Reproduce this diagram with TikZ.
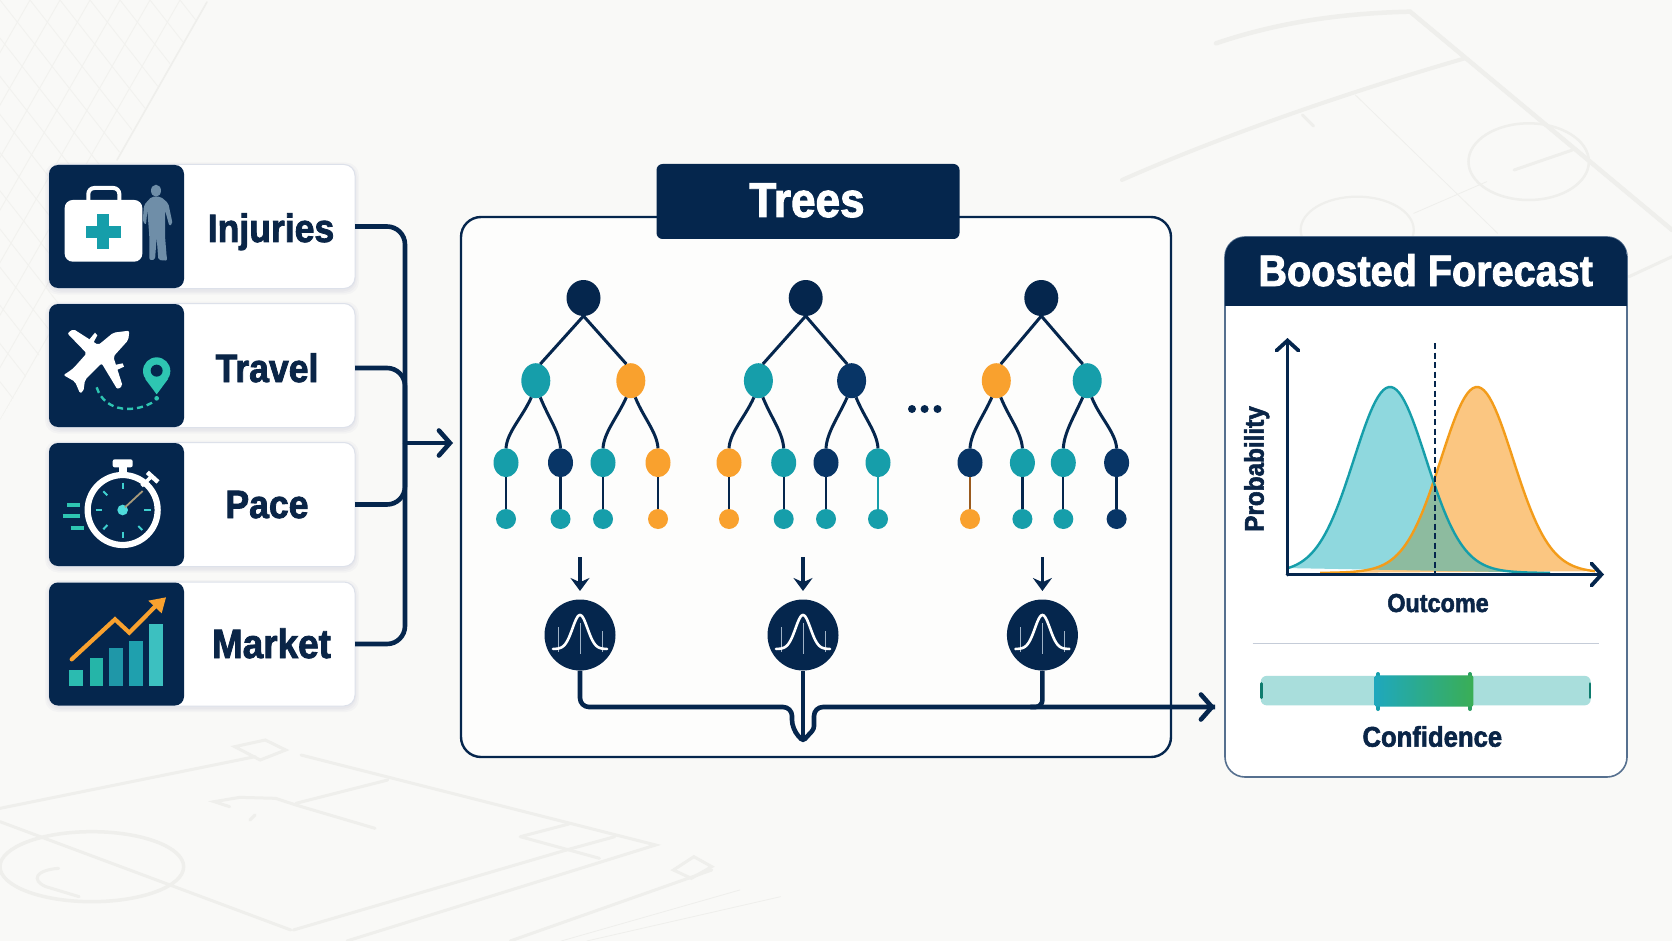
\documentclass[tikz,border=0pt]{standalone}
\usepackage{fontspec}
\setmainfont{Liberation Sans}[FakeStretch=0.9,BoldFeatures={FakeBold=2}]
\usetikzlibrary{arrows.meta,shapes.geometric,calc}
\definecolor{bgc}{HTML}{F9F9F7}
\definecolor{court}{HTML}{EFEFEC}
\definecolor{hatch}{HTML}{F2F2EF}
\definecolor{ink}{HTML}{0A2547}
\definecolor{nv}{HTML}{05264D}
\definecolor{nb}{HTML}{083566}
\definecolor{tl}{HTML}{169EAA}
\definecolor{tlfill}{HTML}{20B2BE}
\definecolor{og}{HTML}{F9A12E}
\definecolor{slate}{HTML}{56708F}
\definecolor{cyn}{HTML}{2EC5B2}
\definecolor{cardedge}{HTML}{DDE1EA}
\definecolor{person}{HTML}{6F8EA8}
\definecolor{cdot}{HTML}{4FDCDC}
\definecolor{handc}{HTML}{A89A7A}
\definecolor{tickc}{HTML}{3FD0D0}
\definecolor{barA}{HTML}{2BBBB0}
\definecolor{barB}{HTML}{25B5A8}
\definecolor{barC}{HTML}{1F97A8}
\definecolor{barD}{HTML}{1FA0AE}
\definecolor{barE}{HTML}{3CC0C0}
\definecolor{browne}{HTML}{9A5B1E}
\definecolor{belax}{HTML}{9FB2C6}
\definecolor{ogline}{HTML}{F39C1A}
\definecolor{divc}{HTML}{C5CCD8}
\definecolor{confb}{HTML}{A9DEDC}
\definecolor{confe}{HTML}{0E7C6E}
\definecolor{gradl}{HTML}{1FA8BD}
\definecolor{gradr}{HTML}{3AAE55}
\definecolor{flankr}{HTML}{2E9F62}
\newcommand{\fsz}[1]{\bfseries\fontsize{#1}{#1}\selectfont}
\tikzset{
 every node/.style={inner sep=0pt,outer sep=0pt},
 declare function={bump(\u,\m)=573-186*(0.92*exp(-0.5*((\u-\m)/35.5)^2)+0.08*exp(-0.5*((\u-\m)/52)^2));},
 cardbox/.style={rectangle,draw=cardedge,line width=1pt,fill=white,rounded corners=11pt,minimum width=306pt,minimum height=124pt},
 iconbox/.style={rectangle,fill=nv,rounded corners=9pt,minimum width=135pt,minimum height=123pt},
 cardtext/.style={anchor=base,text=ink,font=\fsz{39.5}},
 flow/.style={draw=nv,line width=4.6pt},
 barb/.style={-{Straight Barb[length=11pt,width=25pt,line cap=round,line width=4.6pt]}},
 leaf/.style={ellipse},
 lva/.style={leaf,minimum width=34pt,minimum height=36pt},
 lvb/.style={leaf,minimum width=29pt,minimum height=35pt},
 lvc/.style={leaf,minimum width=25pt,minimum height=29pt},
 lvd/.style={leaf,minimum width=20pt,minimum height=20pt},
 twig/.style={draw=nv,line width=3pt},
 stem/.style={draw=nv,line width=2.3pt},
 down/.style={draw=nv,line width=3.6pt,-{Stealth[length=13pt,width=19pt]}},
 bellnode/.style={circle,fill=nv,minimum size=71pt},
 courtl/.style={draw=court,line width=3pt,line cap=round},
 courtt/.style={draw=court,line width=1.6pt,line cap=round},
 headtext/.style={anchor=base,text=white},
 axis/.style={draw=nv,line width=3.8pt,-{Straight Barb[length=10pt,width=22pt,line cap=round,line width=3.8pt]}},
}
\begin{document}
\begin{tikzpicture}[x=1pt,y=-1pt]
\useasboundingbox (0,0) rectangle (1672,941);
\fill[bgc] (0,0) rectangle (1672,941);

% ---- faint net, upper left
\begin{scope}
\clip (0,0) -- (207,0) -- (115,160) -- (60,320) -- (0,420) -- cycle;
\foreach \k in {-300,-270,...,180}
 \draw[hatch,line width=.9pt] (\k,0) -- (\k+330,420);
\foreach \k in {0,30,...,540}
 \draw[hatch,line width=.9pt] (\k,0) -- (\k-240,420);
\end{scope}
\draw[courtt] (207,2) -- (117,160);

% ---- faint court, upper right
\begin{scope}[shift={(1100,0)},x=0.36483pt,y=-0.33333pt]
\draw[courtl,line width=4.5pt] (318,130) .. controls (480,70) and (650,40) .. (850,35) -- (1568,690);
\draw[courtl,line width=4pt] (1000,175) .. controls (700,270) and (350,400) .. (60,540);
\draw[courtl] (555,345) -- (585,378);
\draw[courtl,line width=2.5pt] (1175,485) ellipse [x radius=165,y radius=115];
\draw[courtl] (1135,510) -- (1295,450);
\draw[courtt,line width=.8pt] (700,285) -- (1090,700);
\draw[courtt,line width=.8pt] (860,640) -- (1060,545);
\draw[courtl,line width=2.2pt] (705,690) ellipse [x radius=155,y radius=100];
\draw[courtl] (1450,830) -- (1568,770);
\end{scope}

% ---- faint court, lower left
\begin{scope}[shift={(0,700)},x=0.5102pt,y=-0.33333pt]
\draw[courtl] (0,325) -- (500,170);
\draw[courtl] (590,165) -- (1285,435) -- (680,723);
\draw[courtl] (460,140) -- (520,120) -- (560,150) -- (510,180) -- cycle;
\draw[courtl] (580,310) -- (760,240);
\draw[courtl] (450,320) -- (420,305) -- (470,292) -- (540,295) -- (580,315) -- (735,385);
\draw[courtl] (500,345) -- (490,360);
\draw[courtl] (0,365) -- (570,690);
\draw[courtl,line width=3.5pt] (180,500) ellipse [x radius=180,y radius=105];
\draw[courtl] (115,505) .. controls (70,510) and (60,540) .. (90,560) -- (155,590);
\draw[courtl] (1110,450) -- (575,690);
\draw[courtl] (1020,410) -- (1115,372);
\draw[courtl] (1020,410) -- (1175,475);
\draw[courtl] (1205,410) -- (1110,450);
\draw[courtl] (1395,510) -- (1000,723);
\draw[courtl] (1320,510) -- (1360,470) -- (1395,500) -- (1355,535) -- cycle;
\draw[courtt,line width=.8pt] (1530,590) -- (1150,723);
\draw[courtt,line width=.8pt] (1450,570) -- (1100,723);
\end{scope}

% ---- soft card shadows
\foreach \yc in {226.5,365.5,504.5,644}
 \foreach \s in {1,2.5,4}
  \fill[black!60!blue,opacity=.022,rounded corners=13pt] (49-\s,\yc-62-\s+2) rectangle (355+\s,\yc+62+\s+2);

% ---- input cards
\node[cardbox] (card1) at (202,226.5) {};
\node[cardbox] (card2) at (202,365.5) {};
\node[cardbox] (card3) at (202,504.5) {};
\node[cardbox] (card4) at (202,644) {};
\node[iconbox] (icon1) at (116.5,226.5) {};
\node[iconbox] (icon2) at (116.5,365.5) {};
\node[iconbox] (icon3) at (116.5,504.5) {};
\node[iconbox] (icon4) at (116.5,644) {};
\node[cardtext] (lab1) at (271,242) {Injuries};
\node[cardtext] (lab2) at (267,382) {Travel};
\node[cardtext] (lab3) at (267,518) {Pace};
\node[cardtext,font=\fsz{41}] (lab4) at (271.5,658) {Market};

% injuries icon
\begin{scope}[shift={(30,150)},x=0.33333pt,y=-0.33333pt]
\draw[white,line width=4pt,rounded corners=6pt] (175,152) -- (175,114) -- (268,114) -- (268,152);
\fill[white,rounded corners=8pt] (104,150) rectangle (337,335);
\fill[tl] (202,192) rectangle (238,298);
\fill[tl] (167,227) rectangle (273,263);
\fill[person] (378,122) ellipse [x radius=15,y radius=18];
\fill[person,rounded corners=2pt] (365,140) -- (392,140) -- (415,160) -- (428,222) -- (418,228) -- (405,180) -- (405,258) -- (410,320) -- (412,332) -- (385,330) -- (380,262) -- (375,330) -- (358,330) -- (358,258) -- (352,180) -- (348,225) -- (338,215) -- (342,165) -- cycle;
% plane
\fill[white,rounded corners=2pt] (298,542) -- (250,548) -- (205,585) -- (130,537) -- (112,550) -- (170,610) -- (130,655) -- (112,668) -- (100,675) -- (135,695) -- (150,730) -- (160,725) -- (165,690) -- (215,640) -- (262,718) -- (278,708) -- (250,620) -- (295,570) -- cycle;
\fill[white] (175,572) -- (195,548) -- (202,556) -- (188,582) -- cycle;
\fill[white] (240,648) -- (278,640) -- (282,650) -- (250,665) -- cycle;
\draw[cyn,line width=2.4pt,dash pattern=on 6pt off 4pt] (200,712) .. controls (225,790) and (320,790) .. (376,752);
\fill[cyn] (380,745) circle [radius=7];
\fill[cyn] (380,663) circle [radius=41];
\fill[cyn] (345,686) -- (415,686) -- (380,733) -- cycle;
\fill[nv] (380,662) circle [radius=18];
\end{scope}

% pace and market icons
\begin{scope}[shift={(30,430)},x=0.33333pt,y=-0.33333pt]
\fill[white,rounded corners=2pt] (248,88) rectangle (308,112);
\fill[white] (268,112) rectangle (290,135);
\draw[white,line width=3.6pt] (335,168) -- (362,142);
\draw[white,line width=4.5pt] (352,127) -- (384,156);
\draw[white,line width=6.2pt] (278,240) circle [radius=105];
\fill[cdot] (278,240) circle [radius=16];
\draw[handc,line width=1.8pt] (285,232) -- (338,183);
\foreach \xa/\ya/\xb/\yb in {278/158/278/178,278/305/278/325,197/240/217/240,342/240/362/240,220/184/232/196,220/298/232/285,325/288/337/300}
 \draw[tickc,line width=2pt] (\xa,\ya) -- (\xb,\yb);
\foreach \xa/\xb/\yy in {112/150/226,98/150/259,122/162/294}
 \draw[cyn,line width=4pt] (\xa,\yy) -- (\xb,\yy);
\fill[barA] (118,720) rectangle (160,767);
\fill[barB] (180,685) rectangle (220,767);
\fill[barC] (238,655) rectangle (280,767);
\fill[barD] (298,632) rectangle (340,767);
\fill[barE] (358,583) rectangle (400,767);
\draw[og,line width=4.2pt,line cap=round,line join=miter] (125,688) -- (255,568) -- (298,608) -- (375,530);
\fill[og] (408,502) -- (355,512) -- (395,550) -- cycle;
\end{scope}

% ---- merge connector
\coordinate (bus) at (405,443);
\coordinate (busend) at (453,443);
\draw[flow,rounded corners=18pt] (card1.east) -| (bus);
\draw[flow,rounded corners=18pt] ($(card2.east)+(0,2.5)$) -| (bus);
\draw[flow,rounded corners=18pt] (card3.east) -| (bus);
\draw[flow,rounded corners=18pt] (card4.east) -| (bus);
\draw[flow,barb] (bus) -- (busend);

% ---- trees panel
\node[draw=nv,line width=2.4pt,fill=bgc!40!white,rounded corners=20pt,minimum width=710pt,minimum height=540pt] (trees) at (816,487) {};
\node[fill=nv,rounded corners=6pt,minimum width=303pt,minimum height=75pt] (treeshead) at (808,201.5) {};
\node[headtext,font=\fsz{49}] (treestitle) at (807,217) {Trees};

\foreach \T/\xr/\xa/\xb/\xc/\xd/\xe/\xf/\ca/\cb/\cc/\cd/\ce/\cf/\cg/\ch/\ci/\cj/\ea/\eb/\ec/\ed in {
 A/583.5/535.8/630.8/506/560.5/603/658/tl/og/tl/nb/tl/og/tl/tl/tl/og/nv/nv/nv/nv,
 B/805.7/758.4/851.6/729/783.7/826/878/tl/nb/og/tl/nb/tl/og/tl/tl/tl/nv/nv/nv/tl,
 C/1041.3/996.3/1087.2/970/1022.4/1063.3/1116.6/og/tl/nb/tl/tl/nb/og/tl/tl/nb/browne/nv/nv/nv}{
 \node[lva,fill=nv] (\T0) at (\xr,298) {};
 \node[lvb,fill=\ca] (\T1) at (\xa,380.7) {};
 \node[lvb,fill=\cb] (\T2) at (\xb,380.7) {};
 \node[lvc,fill=\cc] (\T3) at (\xc,462.7) {};
 \node[lvc,fill=\cd] (\T4) at (\xd,462.7) {};
 \node[lvc,fill=\ce] (\T5) at (\xe,462.7) {};
 \node[lvc,fill=\cf] (\T6) at (\xf,462.7) {};
 \node[lvd,fill=\cg] (\T7) at (\xc,519) {};
 \node[lvd,fill=\ch] (\T8) at (\xd,519) {};
 \node[lvd,fill=\ci] (\T9) at (\xe,519) {};
 \node[lvd,fill=\cj] (\T10) at (\xf,519) {};
 \draw[twig] (\T0.south) -- (\T1.75);
 \draw[twig] (\T0.south) -- (\T2.105);
 \draw[twig] (\T1.255) .. controls +(-9,20) and +(1,-16) .. (\T3.north);
 \draw[twig] (\T1.285) .. controls +(8,20) and +(-1,-16) .. (\T4.north);
 \draw[twig] (\T2.255) .. controls +(-9,20) and +(1,-16) .. (\T5.north);
 \draw[twig] (\T2.285) .. controls +(8,20) and +(-1,-16) .. (\T6.north);
 \draw[stem,draw=\ea] (\T3.south) -- (\T7.north);
 \draw[stem,draw=\eb] (\T4.south) -- (\T8.north);
 \draw[stem,draw=\ec] (\T5.south) -- (\T9.north);
 \draw[stem,draw=\ed] (\T6.south) -- (\T10.north);
}
\node[circle,fill=nv,minimum size=8pt] (dota) at (912,409) {};
\node[circle,fill=nv,minimum size=8pt] (dotb) at (924.6,409) {};
\node[circle,fill=nv,minimum size=8pt] (dotc) at (937.5,409) {};

% ---- per-tree distributions
\foreach \g/\gx in {1/580,2/803,3/1042.4}{
 \node[bellnode] (g\g) at (\gx,635) {};
 \begin{scope}[shift={(\gx,635)}]
 \draw[belax,line width=.7pt] (0,-12) -- (0,19) (-22,-8) -- (-22,17) (22,-4) -- (22,17);
 \draw[white,line width=2.6pt,line cap=round] plot[domain=-27:27,samples=45] (\x,{14-34*exp(-0.5*(\x/7.5)^2)});
 \end{scope}
 \coordinate (ds\g) at (\gx,557);
 \coordinate (de\g) at (\gx,591);
 \draw[down] (ds\g) -- (de\g);
}

% ---- combiner
\coordinate (railL) at (580,707);
\coordinate (dipL) at (792,707);
\coordinate (dipLb) at (792,729);
\coordinate (dip) at (803,741);
\coordinate (dipRb) at (814,729);
\coordinate (dipR) at (814,707);
\coordinate (fin) at (1215,707);
\coordinate (joinc) at (1042.4,707);
\draw[flow,rounded corners=9pt] (g1.south) -- (railL) -- (dipL) -- (dipLb) [rounded corners=3pt] -- (dip) -- (dipRb) [rounded corners=9pt] -- (dipR) -- (fin);
\draw[flow,barb] ($(fin)+(-2,0)$) -- (fin);
\draw[flow] (g2.south) -- (dip);
\draw[flow,rounded corners=7pt] (g3.south) -- (joinc) -- ($(joinc)+(-12,0)$);

% ---- forecast panel
\node[rectangle,draw=slate,line width=1.6pt,fill=white,rounded corners=20pt,minimum width=402pt,minimum height=540pt] (panel) at (1426,507) {};
\begin{scope}
\clip[rounded corners=20pt] (1225,237) rectangle (1627,777);
\fill[nv] (1225,237) rectangle (1627,306);
\end{scope}
\node[headtext,font=\fsz{44}] (paneltitle) at (1425.7,286) {Boosted Forecast};

% chart
\fill[og,fill opacity=.6] plot[domain=1320:1595,samples=100] (\x,{bump(\x,1477)}) -- cycle;
\fill[tlfill,fill opacity=.5] plot[domain=1288:1550,samples=100] (\x,{bump(\x,1390)}) -- cycle;
\draw[ogline,line width=2.4pt] plot[domain=1320:1595,samples=100] (\x,{bump(\x,1477)});
\draw[tl,line width=2.4pt] plot[domain=1288:1550,samples=100] (\x,{bump(\x,1390)});
\coordinate (origin) at (1287.5,574.5);
\coordinate (ytop) at (1287.5,338);
\coordinate (xend) at (1604,574.5);
\coordinate (cutt) at (1435,343);
\coordinate (cutb) at (1435,573);
\draw[nv,line width=1.7pt,dash pattern=on 6pt off 3.5pt] (cutt) -- (cutb);
\draw[axis,line cap=round] (origin) -- (ytop);
\draw[axis,line cap=round] (origin) -- (xend);
\node[text=ink,font=\fsz{27},rotate=90] (ylabel) at (1256.7,469) {Probability};
\node[anchor=base,text=ink,font=\fsz{26}] (xlabel) at (1438,612) {Outcome};

% confidence
\coordinate (diva) at (1252.7,643.3);
\coordinate (divb) at (1598.7,643.3);
\draw[divc,line width=1.5pt] (diva) -- (divb);
\node[fill=confb,rounded corners=6pt,minimum width=330pt,minimum height=29.5pt] (confbar) at (1425.7,690.6) {};
\draw[confe,line width=2.8pt,line cap=round] ($(confbar.west)+(0.5,-7)$) -- ($(confbar.west)+(0.5,7)$);
\draw[confe,line width=2.8pt,line cap=round] ($(confbar.east)+(-0.8,-7)$) -- ($(confbar.east)+(-0.8,7)$);
\draw[tl,line width=4pt,line cap=round] (1378,674) -- (1378,709);
\draw[flankr,line width=4pt,line cap=round] (1470,674) -- (1470,709);
\shade[left color=gradl,right color=gradr,rounded corners=2pt] (1374.7,675.3) rectangle (1473.3,706.7);
\node[anchor=base,text=ink,font=\fsz{28.5}] (conflabel) at (1432.3,746.7) {Confidence};
\end{tikzpicture}
\end{document}
